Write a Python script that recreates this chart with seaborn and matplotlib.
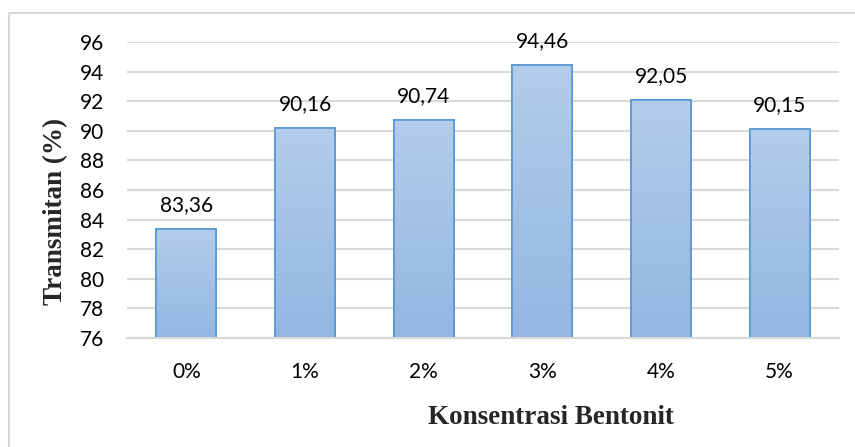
import numpy as np
import pandas as pd
import matplotlib
matplotlib.use("Agg")
import matplotlib.pyplot as plt
from matplotlib.patches import Rectangle
from matplotlib.colors import LinearSegmentedColormap
import seaborn as sns

# Data
konsentrasi = ["0%", "1%", "2%", "3%", "4%", "5%"]
transmitan = [83.36, 90.16, 90.74, 94.46, 92.05, 90.15]
value_labels = ["83,36", "90,16", "90,74", "94,46", "92,05", "90,15"]
y_ticks = [76, 78, 80, 82, 84, 86, 88, 90, 92, 94, 96]

df = pd.DataFrame({"Konsentrasi": konsentrasi, "Transmitan": transmitan})

sns.set_theme(style="white")
plt.rcParams["font.family"] = ["Lato", "DejaVu Sans"]

W, H, DPI = 855, 447, 100
fig = plt.figure(figsize=(W / DPI, H / DPI), dpi=DPI)
fig.patch.set_facecolor("white")

# plot area in pixels: x 127..839, y 42..338
ax = fig.add_axes([127 / W, 1 - 338 / H, (839 - 127) / W, (338 - 42) / H])

sns.barplot(data=df, x="Konsentrasi", y="Transmitan", ax=ax, width=0.505,
            color="#A6C2E6", edgecolor="#5B9BD5", linewidth=1.3,
            saturation=1, zorder=3)

ax.set_ylim(76, 96)
ax.set_xlim(-0.5, len(konsentrasi) - 0.5)
ax.set_yticks(y_ticks)

# vertical gradient fill inside each bar
grad = LinearSegmentedColormap.from_list("barfill", ["#93B6E2", "#B3CDEA"])
for p in ax.patches:
    x0, w = p.get_x(), p.get_width()
    top = p.get_y() + p.get_height()
    im = ax.imshow(np.linspace(0, 1, 100).reshape(-1, 1), cmap=grad,
                   origin="lower", aspect="auto",
                   extent=(x0, x0 + w, 76, top), zorder=3.5)
    im.set_clip_path(p)
    edge = Rectangle((x0, p.get_y()), w, p.get_height(), fill=False,
                     edgecolor="#5B9BD5", linewidth=1.3, zorder=4)
    ax.add_patch(edge)
ax.set_xlim(-0.5, len(konsentrasi) - 0.5)
ax.set_ylim(76, 96)

ax.bar_label(ax.containers[0], labels=value_labels, padding=10,
             fontsize=15, color="#000000")

ax.yaxis.grid(True, color="#D9D9D9", linewidth=1.5, zorder=0)
ax.xaxis.grid(False)
for s in ["top", "right", "left"]:
    ax.spines[s].set_visible(False)
ax.spines["bottom"].set_color("#D9D9D9")
ax.spines["bottom"].set_linewidth(1.5)
ax.spines["bottom"].set_zorder(5)

ax.tick_params(axis="y", length=0, pad=16.5, labelsize=15, labelcolor="#000000")
ax.tick_params(axis="x", length=0, pad=17, labelsize=15, labelcolor="#000000")

ax.set_xlabel("")
ax.set_ylabel("")
fig.text(551 / W, 1 - 418 / H, "Konsentrasi Bentonit", ha="center", va="center",
         fontsize=19.5, fontweight="bold", family=["Liberation Serif", "DejaVu Serif"])
fig.text(56 / W, 1 - 211 / H, "Transmitan (%)", ha="center", va="center",
         rotation=90, fontsize=19.5, fontweight="bold",
         family=["Liberation Serif", "DejaVu Serif"])

# outer chart frame
frame = Rectangle((8.5 / W, -0.1), 1.2, 1 - 13.5 / H + 0.1, transform=fig.transFigure,
                  fill=False, edgecolor="#D9D9D9", linewidth=1.5)
fig.patches.append(frame)

fig.savefig("out.png", dpi=DPI, facecolor="white")
